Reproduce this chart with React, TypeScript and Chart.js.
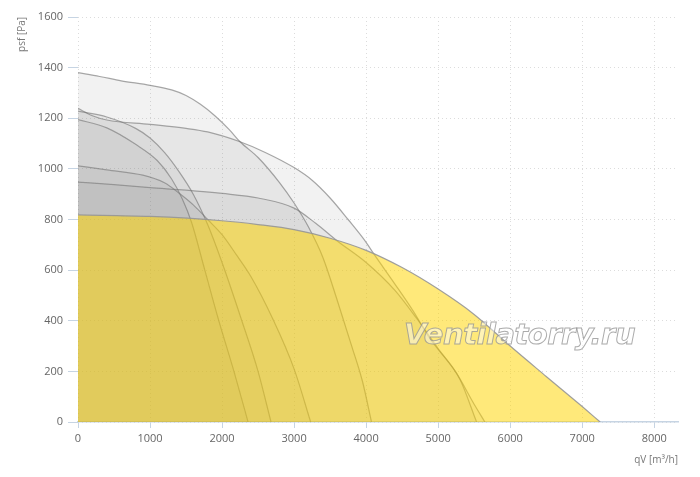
import { useEffect, useRef } from 'react';
import { Chart, registerables } from 'chart.js';

Chart.register(...registerables);

// qV [m³/h] / psf [Pa] pairs
// selected fan (yellow)
const selQ = [0, 1000, 2000, 2500, 3000, 3500, 4000, 4500, 5000, 5500, 6000, 6500, 7000, 7250];
const selP = [818, 812, 795, 780, 760, 726, 678, 610, 525, 425, 300, 180, 61, 0];

// other fans (grey)
const g1Q = [0, 300, 600, 1000, 1300, 1500, 1700, 1900, 2100, 2250, 2500, 2800, 3000, 3200, 3400, 3600, 3800, 3950, 4075];
const g1P = [1380, 1365, 1348, 1330, 1312, 1290, 1255, 1210, 1155, 1107, 1045, 945, 865, 770, 650, 480, 300, 160, 0];

const g2Q = [0, 200, 400, 1000, 1500, 1800, 2250, 2600, 3000, 3250, 3500, 3750, 4000, 4100, 4400, 4650, 4885, 5250, 5500, 5649];
const g2P = [1239, 1210, 1193, 1176, 1160, 1146, 1107, 1065, 1005, 955, 885, 800, 710, 667, 545, 440, 330, 195, 70, 0];

const g3Q = [0, 400, 800, 1000, 1200, 1400, 1600, 1800, 2000, 2270, 2500, 2680];
const g3P = [1228, 1205, 1160, 1122, 1065, 990, 900, 780, 630, 404, 200, 0];

const g4Q = [0, 400, 800, 1100, 1300, 1450, 1575, 1760, 1945, 2170, 2361];
const g4P = [1195, 1162, 1097, 1033, 960, 880, 790, 601, 410, 195, 0];

const g5Q = [0, 400, 900, 1200, 1400, 1600, 1800, 2000, 2200, 2400, 2700, 3000, 3230];
const g5P = [1012, 996, 975, 945, 905, 858, 800, 740, 660, 575, 410, 210, 0];

const g6Q = [0, 500, 1000, 1500, 2000, 2500, 3000, 3300, 3600, 4000, 4400, 4700, 5000, 5300, 5534];
const g6P = [948, 938, 926, 916, 903, 885, 845, 785, 715, 630, 520, 410, 290, 170, 0];

const greyCurves = [
  [g1Q, g1P],
  [g2Q, g2P],
  [g3Q, g3P],
  [g4Q, g4P],
  [g5Q, g5P],
  [g6Q, g6P],
];

const qTicks = [0, 1000, 2000, 3000, 4000, 5000, 6000, 7000, 8000];

const toPts = (xs: number[], ys: number[]) => xs.map((x, i) => ({ x, y: ys[i] }));

const tickFont = { family: 'Open Sans', size: 11 };
const titleFont = { family: 'Open Sans', size: 10 };

const App = () => {
  const canvasRef = useRef<HTMLCanvasElement | null>(null);

  useEffect(() => {
    const canvas = canvasRef.current;
    if (!canvas) return;

    const greySets = greyCurves.map(([q, p]) => ({
      data: toPts(q, p),
      borderColor: 'rgba(110,110,110,0.6)',
      backgroundColor: 'rgba(128,128,128,0.1)',
      borderWidth: 1.2,
      fill: 'origin',
      order: 1,
    }));

    const chart = new Chart(canvas, {
      type: 'line',
      data: {
        datasets: [
          {
            data: toPts(selQ, selP),
            borderColor: 'rgba(150,150,150,0.9)',
            backgroundColor: 'rgba(255,212,0,0.52)',
            borderWidth: 1.2,
            fill: 'origin',
            order: 0,
          },
          ...greySets,
        ] as any,
      },
      options: {
        animation: false,
        responsive: false,
        layout: { padding: { top: 17, right: 22, left: 0, bottom: 0 } },
        plugins: {
          legend: { display: false },
          tooltip: { enabled: false },
        },
        elements: {
          point: { radius: 0 },
          line: { cubicInterpolationMode: 'monotone' },
        },
        scales: {
          x: {
            type: 'linear',
            min: 0,
            max: 8330,
            afterBuildTicks: (s: any) => {
              s.ticks = qTicks.map((v) => ({ value: v }));
            },
            afterFit: (s: any) => {
              s.height = 55;
            },
            ticks: {
              padding: 4,
              color: '#666',
              font: tickFont,
              maxRotation: 0,
              autoSkip: false,
              callback: (v: any) => String(v),
            },
            grid: { color: '#dcdcdc', tickColor: '#c6d4e3', tickLength: 6 },
            border: { color: '#c6d4e3', width: 1.5, dash: [1, 3] },
            title: {
              display: true,
              text: 'qV [m³/h]',
              align: 'end',
              color: '#777',
              font: titleFont,
              padding: { top: 0, bottom: 11 },
            },
          },
          y: {
            type: 'linear',
            min: 0,
            max: 1600,
            afterFit: (s: any) => {
              s.width = 78;
            },
            ticks: {
              stepSize: 200,
              padding: 5,
              color: '#666',
              font: tickFont,
              callback: (v: any) => String(v),
            },
            grid: { color: '#dcdcdc', tickColor: '#c6d4e3', tickLength: 10 },
            border: { display: false, dash: [1, 3] },
            title: {
              display: true,
              text: 'psf [Pa]',
              align: 'end',
              color: '#777',
              font: titleFont,
              padding: { top: 16, bottom: 0 },
            },
          },
        },
      } as any,
    });

    return () => {
      chart.destroy();
    };
  }, []);

  return (
    <div style={{ position: 'absolute', left: 0, top: 0, width: 700, height: 477, background: '#fff' }}>
      <canvas ref={canvasRef} width={700} height={477} />
      <div
        style={{
          position: 'absolute',
          left: 404,
          top: 320,
          fontFamily: 'DejaVu Sans',
          fontStyle: 'italic',
          fontWeight: 'bold',
          fontSize: 29,
          lineHeight: '29px',
          letterSpacing: -0.5,
          whiteSpace: 'nowrap',
          color: 'rgba(255,255,255,0.45)',
          WebkitTextStroke: '1px rgba(150,150,150,0.8)',
          pointerEvents: 'none',
        }}
      >
        Ventilatorry.ru
      </div>
    </div>
  );
};

export default App;
